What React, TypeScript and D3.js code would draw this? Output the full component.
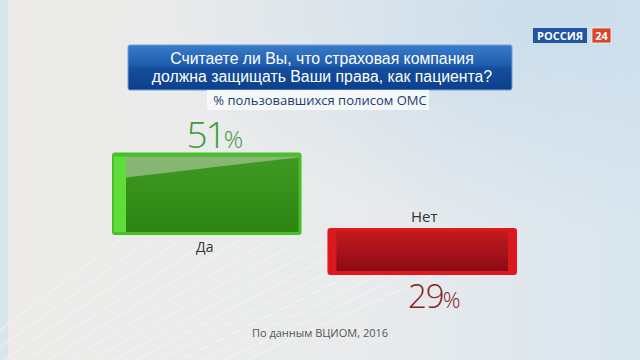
import React from "react";
import * as d3 from "d3";

const categories = ["Да", "Нет"];
const values = [51, 29];
const valueLabels = ["51", "29"];
const titleLines = ["Считаете ли Вы, что страховая компания", "должна защищать Ваши права, как пациента?"];
const subtitle = "% пользовавшихся полисом ОМС";
const source = "По данным ВЦИОМ, 2016";

const W = 640;
const H = 360;

export default function App() {
  const x = d3.scaleBand<string>().domain(categories).range([112, 517]).paddingInner(0.12).paddingOuter(0);
  const h = d3.scaleLinear().domain([0, 100]).range([0, 162]);
  const bw = x.bandwidth();

  const upBase = 235;
  const downBase = 228;

  const g0x = x(categories[0])!;
  const g0h = h(values[0]);
  const g0y = upBase - g0h;
  const r1x = x(categories[1])!;
  const r1h = h(values[1]);
  const r1y = downBase;

  const font = "'Open Sans', 'Noto Sans', sans-serif";
  const titleFont = "'Liberation Sans', Arial, sans-serif";

  const streaks = d3.range(0, 14);

  return (
    <div style={{ position: "fixed", left: 0, top: 0, width: W, height: H, overflow: "hidden" }}>
      <svg width={W} height={H} viewBox={`0 0 ${W} ${H}`} style={{ display: "block" }}>
        <defs>
          <linearGradient id="bg" x1="0" y1="0" x2="1" y2="0">
            <stop offset="0" stopColor="#ecebe9" />
            <stop offset="0.55" stopColor="#e9ebec" />
            <stop offset="1" stopColor="#d9e6ef" />
          </linearGradient>
          <radialGradient id="bgTop" cx="0.85" cy="0.05" r="0.6">
            <stop offset="0" stopColor="#c9dceb" stopOpacity="0.9" />
            <stop offset="1" stopColor="#c9dceb" stopOpacity="0" />
          </radialGradient>
          <linearGradient id="banner" x1="0" y1="0" x2="0" y2="1">
            <stop offset="0" stopColor="#3a7cc9" />
            <stop offset="0.45" stopColor="#1f5cae" />
            <stop offset="0.5" stopColor="#154f9f" />
            <stop offset="1" stopColor="#0d3f8a" />
          </linearGradient>
          <linearGradient id="greenFill" x1="0" y1="0" x2="0" y2="1">
            <stop offset="0" stopColor="#3f9a22" />
            <stop offset="1" stopColor="#2c8412" />
          </linearGradient>
          <linearGradient id="redFill" x1="0" y1="0" x2="0" y2="1">
            <stop offset="0" stopColor="#c41a1e" />
            <stop offset="0.6" stopColor="#a3111a" />
            <stop offset="1" stopColor="#870c14" />
          </linearGradient>
        </defs>

        <rect x={0} y={0} width={W} height={H} fill="url(#bg)" />
        <rect x={0} y={0} width={W} height={H} fill="url(#bgTop)" />
        <rect x={0} y={0} width={8} height={H} fill="#d4e3ee" opacity={0.8} />
        {streaks.map((i) => (
          <line
            key={i}
            x1={-40 + i * 22}
            y1={H}
            x2={120 + i * 30}
            y2={H - 120}
            stroke="#ffffff"
            strokeOpacity={0.35}
            strokeWidth={1.2}
          />
        ))}

        {/* logo */}
        <rect x={533} y={28} width={54} height={15} fill="#1f55a3" />
        <text x={560} y={39.5} textAnchor="middle" fill="#ffffff" fontFamily={font} fontWeight={700} fontSize={11}>
          РОССИЯ
        </text>
        <rect x={592} y={28} width={19} height={15} fill="#d9452b" stroke="#eeeeee" strokeWidth={0.8} />
        <text x={601.5} y={39.5} textAnchor="middle" fill="#ffffff" fontFamily={font} fontWeight={700} fontSize={11}>
          24
        </text>

        {/* title banner */}
        <rect x={128} y={45} width={384} height={45} rx={2} fill="url(#banner)" stroke="#6f9fd6" strokeWidth={1} />
        {titleLines.map((t, i) => (
          <text
            key={i}
            x={322}
            y={63.5 + i * 18}
            textAnchor="middle"
            fill="#ffffff"
            fontFamily={titleFont}
            fontSize={15.8}
          >
            {t}
          </text>
        ))}
        <rect x={207} y={90} width={222} height={20} fill="#f6f8fa" opacity={0.92} />
        <text x={320} y={105} textAnchor="middle" fill="#1d3c72" fontFamily={font} fontSize={13}>
          {subtitle}
        </text>

        {/* green bar */}
        <rect x={g0x} y={g0y} width={bw} height={g0h} rx={3} fill="#47c02a" />
        <rect x={g0x + 2} y={g0y + 4} width={bw - 5} height={g0h - 7} fill="url(#greenFill)" />
        <rect x={g0x + 2} y={g0y + 4} width={12} height={g0h - 7} fill="#5fdc3a" />
        <polygon
          points={[
            [g0x + 14, g0y + 4],
            [g0x + bw - 3, g0y + 4],
            [g0x + bw - 3, g0y + 5],
            [g0x + 14, g0y + 25],
          ]
            .map((p) => p.join(","))
            .join(" ")}
          fill="#b9c9ae"
          opacity={0.6}
        />
        <text x={g0x + bw / 2 + 8} y={g0y - 4} textAnchor="middle" fill="#3e9a3c" fontFamily={font} fontWeight={300}>
          <tspan fontSize={37} letterSpacing={-2}>{valueLabels[0]}</tspan>
          <tspan fontSize={24} dx={-1}>%</tspan>
        </text>
        <text x={g0x + bw / 2 - 2} y={upBase + 17} textAnchor="middle" fill="#333333" fontFamily={font} fontSize={14}>
          {categories[0]}
        </text>

        {/* red bar */}
        <rect x={r1x} y={r1y} width={bw} height={r1h} rx={3} fill="#e3161e" />
        <rect x={r1x + 3} y={r1y + 3} width={bw - 6} height={r1h - 7} fill="url(#redFill)" />
        <rect x={r1x + 3} y={r1y + 3} width={6} height={r1h - 7} fill="#d81a20" />
        <rect x={r1x + bw - 9} y={r1y + 3} width={6} height={r1h - 7} fill="#d81a20" />
        <text x={r1x + bw / 2 + 12} y={r1y + r1h + 33} textAnchor="middle" fill="#8c1f24" fontFamily={font} fontWeight={300}>
          <tspan fontSize={33} letterSpacing={-1}>{valueLabels[1]}</tspan>
          <tspan fontSize={22} dx={-1}>%</tspan>
        </text>
        <text x={r1x + bw / 2 + 2} y={downBase - 6} textAnchor="middle" fill="#333333" fontFamily={font} fontSize={15}>
          {categories[1]}
        </text>

        <text x={320} y={337} textAnchor="middle" fill="#555555" fontFamily={font} fontSize={11}>
          {source}
        </text>
      </svg>
    </div>
  );
}
